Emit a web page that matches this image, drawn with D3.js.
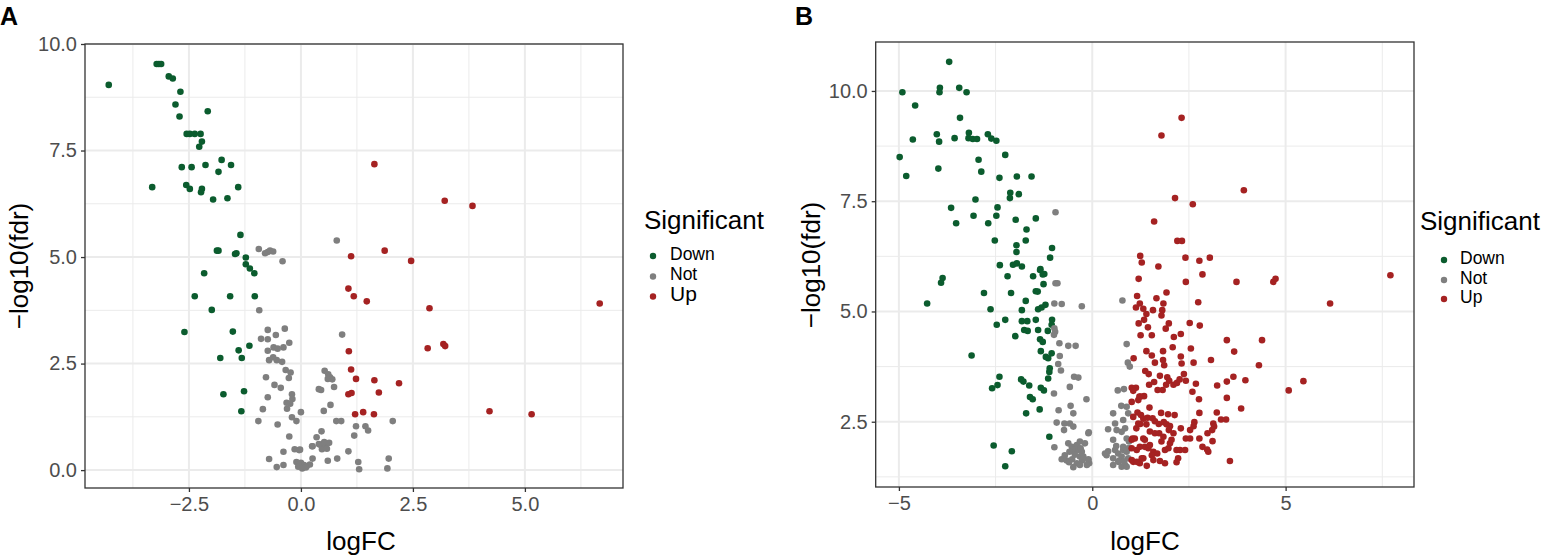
<!DOCTYPE html>
<html><head><meta charset="utf-8">
<script src="https://cdn.jsdelivr.net/npm/d3@7"></script>
<style>body{margin:0;background:#fff} text{font-family:"Liberation Sans",Arial,Helvetica,sans-serif}</style>
</head><body><svg id="c" width="1544" height="556"></svg>
<script>
const categories = ["Down","Not","Up"];
const catColors = ["#0B5C2E","#7F7F7F","#A52222"];

const aDown = [[-4.29,9.04],[-3.22,9.53],[-3.17,9.53],[-3.12,9.53],[-2.95,9.24],[-2.86,9.19],[-2.69,8.88],[-2.80,8.58],[-2.71,8.30],[-2.08,8.42],[-2.55,7.89],[-2.48,7.89],[-2.37,7.89],[-2.24,7.89],[-2.21,7.71],[-2.27,7.59],[-2.66,7.11],[-2.44,7.11],[-2.13,7.16],[-1.77,7.28],[-1.56,7.16],[-1.84,7.00],[-3.32,6.64],[-2.56,6.69],[-2.48,6.60],[-2.21,6.60],[-2.23,6.52],[-1.40,6.64],[-1.96,6.35],[-1.64,6.38],[-1.35,5.52],[-1.875,5.15],[-1.84,5.15],[-1.47,5.07],[-1.44,5.09],[-1.23,4.99],[-1.23,4.83],[-1.14,4.73],[-1.04,4.62],[-2.16,4.62],[-2.37,4.08],[-1.58,4.08],[-1.03,4.08],[-1.99,3.76],[-2.60,3.24],[-1.52,3.25],[-1.15,2.92],[-1.39,2.81],[-1.80,2.63],[-1.32,2.63],[-1.73,1.78],[-1.27,1.85],[-1.33,1.38]];
const aNot = [[-0.94,5.19],[-0.80,5.09],[-0.74,5.12],[-0.69,5.15],[-0.62,5.13],[-0.41,4.90],[0.80,5.39],[0.92,3.18],[0.53,2.33],[0.61,2.25],[0.65,2.18],[0.60,2.14],[0.70,2.13],[0.40,1.90],[0.45,1.88],[0.74,1.95],[0.51,1.39],[0.66,1.53],[0.0,1.36],[0.79,1.15],[0.90,1.15],[2.05,1.15],[1.23,1.03],[1.44,1.03],[1.50,0.93],[1.19,0.81],[0.46,0.91],[0.35,0.77],[0.26,0.56],[0.42,0.60],[0.54,0.55],[0.63,0.64],[0.47,0.49],[0.52,0.66],[0.58,0.50],[1.06,0.44],[0.81,0.27],[0.60,0.22],[0.26,0.27],[0.04,0.12],[0.13,0.09],[0.20,0.13],[1.28,0.19],[1.30,0.02],[1.96,0.27],[1.93,0.04],[-0.02,0.48],[-0.93,3.75],[-0.74,3.29],[-0.36,3.32],[-0.56,3.17],[-0.89,3.08],[-0.74,3.07],[-0.26,2.99],[-0.74,2.80],[-0.61,2.88],[-0.52,2.85],[-0.39,2.88],[-0.71,2.58],[-0.62,2.65],[-0.54,2.58],[-0.42,2.54],[-0.34,2.35],[-0.23,2.29],[-0.27,2.16],[-0.78,2.18],[-0.59,2.00],[-0.45,1.93],[-0.74,1.71],[-0.20,1.78],[-0.19,1.67],[-0.32,1.58],[-0.24,1.56],[-0.31,1.44],[-0.85,1.43],[-0.20,1.24],[-0.10,1.15],[-0.95,1.15],[-0.52,1.07],[-0.26,0.79],[0.25,0.56],[0.40,0.61],[-0.14,0.49],[-0.04,0.47],[-0.39,0.43],[-0.71,0.26],[-0.10,0.19],[0.0,0.17],[0.07,0.12],[-0.06,0.08],[0.03,0.04],[0.11,0.06],[-0.39,0.12],[-0.54,0.07]];
const aUp = [[1.64,7.18],[1.12,5.02],[1.87,5.15],[3.21,6.32],[3.83,6.20],[2.46,4.91],[1.06,4.26],[1.18,4.08],[1.47,3.96],[2.87,3.80],[6.67,3.91],[1.07,2.79],[2.83,2.86],[3.18,2.96],[3.22,2.91],[1.12,2.36],[1.23,2.14],[1.64,2.11],[2.19,2.04],[1.74,1.82],[1.06,1.78],[1.13,1.81],[1.21,1.31],[1.39,1.36],[1.63,1.31],[4.21,1.38],[5.15,1.31]];

const bDown = [[-3.70,10.66],[-4.91,9.97],[-3.94,10.07],[-3.95,9.97],[-3.44,10.07],[-3.25,9.97],[-4.58,9.67],[-3.42,9.39],[-4.64,8.90],[-4.02,9.02],[-3.96,8.85],[-3.56,8.93],[-3.19,9.05],[-3.20,8.93],[-3.09,8.91],[-2.98,8.91],[-2.70,9.02],[-2.61,8.92],[-2.48,8.87],[-4.98,8.50],[-2.25,8.55],[-2.94,8.44],[-4.81,8.07],[-3.98,8.24],[-2.87,8.17],[-2.40,8.03],[-1.95,8.06],[-1.57,8.06],[-2.12,7.69],[-1.90,7.66],[-2.13,7.57],[-3.02,7.54],[-3.65,7.35],[-3.07,7.17],[-2.45,7.36],[-2.48,7.17],[-3.52,7.00],[-2.69,7.00],[-1.98,7.08],[-1.46,7.11],[-1.70,6.86],[-2.52,6.61],[-1.72,6.61],[-1.96,6.50],[-1.96,6.35],[-1.04,6.44],[-1.09,6.22],[-2.39,6.05],[-2.05,6.06],[-1.95,6.09],[-1.82,6.02],[-1.34,5.96],[-1.24,5.85],[-2.19,5.80],[-1.53,5.80],[-3.87,5.76],[-3.91,5.65],[-1.35,5.94],[-1.28,5.84],[-1.26,5.62],[-2.80,5.42],[-2.10,5.42],[-4.27,5.18],[-1.46,5.46],[-1.41,5.45],[-1.72,5.24],[-1.21,5.15],[-1.40,5.05],[-1.31,5.09],[-2.63,5.05],[-1.82,5.03],[-2.47,4.70],[-2.25,4.81],[-1.82,4.78],[-1.68,4.78],[-1.46,4.81],[-1.76,4.58],[-1.67,4.56],[-1.40,4.58],[-1.04,4.81],[-1.05,4.70],[-1.15,4.56],[-1.99,4.44],[-1.35,4.37],[-1.28,4.31],[-3.12,4.00],[-1.33,4.10],[-1.20,3.97],[-1.14,3.94],[-1.05,4.05],[-1.10,3.71],[-1.11,3.63],[-1.14,3.48],[-2.40,3.52],[-2.45,3.33],[-2.59,3.26],[-1.84,3.46],[-1.78,3.41],[-1.63,3.32],[-1.33,3.27],[-1.25,3.21],[-1.61,3.06],[-1.54,3.01],[-1.36,2.78],[-1.71,2.69],[-1.11,2.16],[-2.55,1.96],[-2.08,1.83],[-2.25,1.49]];
const bNot = [[-0.95,7.25],[-0.95,5.64],[-0.90,5.64],[-0.98,5.18],[-0.79,5.17],[-0.27,5.12],[0.78,5.25],[-0.98,4.62],[-0.96,4.54],[-0.99,4.47],[-0.85,4.28],[-0.62,4.22],[-0.43,4.22],[0.89,4.26],[-0.84,3.99],[-0.88,3.81],[-0.81,3.66],[-0.47,3.52],[-0.36,3.50],[0.92,3.84],[0.97,3.75],[-0.99,3.14],[-0.58,3.29],[-0.15,3.01],[0.66,3.21],[0.82,3.24],[-0.56,2.86],[-0.49,2.69],[-0.87,2.76],[0.75,2.86],[0.89,2.84],[0.93,2.69],[0.54,2.69],[0.80,2.54],[-0.92,2.48],[-0.72,2.46],[-0.73,2.31],[-0.58,2.46],[-0.49,2.39],[-0.09,2.26],[0.41,2.33],[0.59,2.46],[0.63,2.31],[-0.98,1.92],[-0.62,2.01],[-0.53,1.93],[-0.40,1.97],[-0.32,2.05],[-0.49,1.86],[-0.36,1.86],[-0.59,1.82],[-0.27,1.82],[-0.79,1.65],[-0.66,1.62],[-0.52,1.65],[-0.40,1.56],[-0.26,1.62],[-0.10,1.65],[-0.49,1.47],[-0.71,1.74],[-0.32,1.71],[-0.08,1.56],[0.41,1.83],[0.59,1.86],[0.67,1.78],[0.80,1.86],[0.89,1.82],[0.97,1.90],[0.54,1.67],[0.67,1.59],[0.85,1.52],[0.76,1.71],[0.93,1.67],[0.37,1.74],[0.76,2.27],[0.54,2.09],[0.89,2.12],[0.33,1.78],[0.54,1.52],[0.76,1.48],[0.89,1.48],[0.80,1.93],[0.93,1.90],[-0.19,2.01],[-0.10,2.24],[-0.23,1.71],[-0.10,1.63],[-0.32,1.52],[-0.14,1.52],[-0.45,1.75],[-0.60,1.58],[0.70,1.62],[0.82,1.60],[0.62,1.95],[-0.30,1.90],[0.95,2.05],[0.85,2.35]];
const bUp = [[2.31,9.39],[1.79,8.99],[3.92,7.75],[2.14,7.57],[2.60,7.43],[1.60,7.04],[2.20,6.60],[2.32,6.60],[1.24,6.26],[1.28,6.11],[1.71,6.02],[2.41,6.22],[2.77,6.15],[3.04,6.22],[1.20,5.74],[2.42,5.67],[2.85,5.84],[3.73,5.67],[4.68,5.67],[4.74,5.74],[7.71,5.82],[6.15,5.18],[1.66,5.30],[1.92,5.43],[2.74,5.21],[1.16,5.35],[1.23,5.18],[1.13,5.09],[1.32,5.06],[1.40,4.94],[1.57,5.03],[1.81,5.03],[1.84,5.18],[1.79,4.91],[1.20,4.73],[1.34,4.81],[1.44,4.64],[1.25,4.46],[1.54,4.46],[1.98,4.73],[1.90,4.61],[2.52,4.74],[2.78,4.68],[2.29,4.49],[2.11,4.42],[3.48,4.35],[4.39,4.35],[3.67,4.09],[4.31,3.78],[2.55,4.16],[2.08,4.19],[1.83,4.10],[1.40,4.10],[1.54,4.00],[1.62,3.84],[1.86,3.78],[1.83,3.90],[1.07,3.94],[2.29,3.98],[2.31,3.82],[2.62,3.84],[3.07,3.90],[1.37,3.65],[1.46,3.58],[1.75,3.54],[1.94,3.51],[1.99,3.43],[1.91,3.34],[1.60,3.40],[1.47,3.34],[2.10,3.34],[2.19,3.38],[2.26,3.46],[2.37,3.58],[2.42,3.43],[2.68,3.36],[3.23,3.32],[3.48,3.41],[3.65,3.52],[3.96,3.44],[5.08,3.21],[5.46,3.42],[1.02,3.27],[1.13,3.27],[1.06,3.20],[1.25,3.07],[1.34,3.08],[1.19,2.99],[1.69,3.22],[1.82,3.22],[2.59,3.18],[2.76,3.01],[3.48,3.04],[3.85,2.80],[1.48,2.82],[1.17,2.71],[1.26,2.65],[1.43,2.59],[1.56,2.58],[1.78,2.70],[1.96,2.67],[2.13,2.65],[2.77,2.70],[3.22,2.71],[3.33,2.55],[3.46,2.55],[2.64,2.49],[2.62,2.40],[3.13,2.46],[3.15,2.39],[3.10,2.31],[1.14,2.35],[1.24,2.45],[1.40,2.44],[1.62,2.51],[1.72,2.45],[1.85,2.49],[1.92,2.44],[2.01,2.40],[2.29,2.35],[1.49,2.28],[1.62,2.24],[1.73,2.24],[1.98,2.31],[2.10,2.24],[2.53,2.31],[2.42,2.12],[2.53,2.12],[2.77,2.12],[2.98,2.24],[3.11,2.06],[2.85,1.93],[3.00,1.82],[2.97,1.87],[3.56,1.61],[1.02,2.09],[1.10,2.12],[1.32,2.12],[1.02,1.90],[1.15,1.86],[1.36,1.93],[1.45,1.90],[1.49,1.97],[1.58,1.82],[1.68,1.78],[1.54,1.74],[1.88,1.86],[1.97,1.90],[2.18,1.86],[2.27,1.86],[2.40,1.86],[2.01,2.01],[2.05,2.09],[1.79,2.05],[1.84,2.16],[1.06,1.59],[1.23,1.56],[1.41,1.50],[1.75,1.61],[1.88,1.56],[2.18,1.58],[2.22,1.67],[1.58,1.63],[1.32,1.67],[1.02,2.95],[1.22,3.07],[1.06,2.61],[1.19,2.46],[1.32,2.57],[1.04,2.12],[1.23,1.93],[1.36,2.09],[1.02,1.63],[1.28,1.67],[1.15,1.59]];

const aXTicks = [-2.5, 0, 2.5, 5];
const aXLabels = ["\u22122.5", "0.0", "2.5", "5.0"];
const aXMinor = [-3.75, -1.25, 1.25, 3.75, 6.25];
const aYTicks = [0, 2.5, 5, 7.5, 10];
const aYLabels = ["0.0", "2.5", "5.0", "7.5", "10.0"];
const aYMinor = [1.25, 3.75, 6.25, 8.75];
const bXTicks = [-5, 0, 5];
const bXLabels = ["\u22125", "0", "5"];
const bXMinor = [-2.5, 2.5, 7.5];
const bYTicks = [2.5, 5, 7.5, 10];
const bYLabels = ["2.5", "5.0", "7.5", "10.0"];
const bYMinor = [1.25, 3.75, 6.25, 8.75];

const svg = d3.select("#c");

function drawPanel(cfg) {
  const x = d3.scaleLinear().domain(cfg.xDomain).range([cfg.left, cfg.right]);
  const y = d3.scaleLinear().domain(cfg.yDomain).range([cfg.bottom, cfg.top]);
  const g = svg.append("g");
  g.append("rect").attr("x", cfg.left).attr("y", cfg.top)
    .attr("width", cfg.right - cfg.left).attr("height", cfg.bottom - cfg.top).attr("fill", "#fff");
  g.selectAll(null).data(cfg.xMinor).join("line")
    .attr("x1", d => x(d)).attr("x2", d => x(d)).attr("y1", cfg.top).attr("y2", cfg.bottom)
    .attr("stroke", "#EBEBEB").attr("stroke-width", 1);
  g.selectAll(null).data(cfg.yMinor.filter(v => y(v) > cfg.top && y(v) < cfg.bottom)).join("line")
    .attr("y1", d => y(d)).attr("y2", d => y(d)).attr("x1", cfg.left).attr("x2", cfg.right)
    .attr("stroke", "#EBEBEB").attr("stroke-width", 1);
  g.selectAll(null).data(cfg.xTicks).join("line")
    .attr("x1", d => x(d)).attr("x2", d => x(d)).attr("y1", cfg.top).attr("y2", cfg.bottom)
    .attr("stroke", "#EBEBEB").attr("stroke-width", 2);
  g.selectAll(null).data(cfg.yTicks).join("line")
    .attr("y1", d => y(d)).attr("y2", d => y(d)).attr("x1", cfg.left).attr("x2", cfg.right)
    .attr("stroke", "#EBEBEB").attr("stroke-width", 2);
  cfg.series.forEach((s, i) => {
    g.selectAll(null).data(s).join("circle")
      .attr("cx", d => x(d[0])).attr("cy", d => y(d[1])).attr("r", 3.3)
      .attr("fill", catColors[i]);
  });
  g.append("rect").attr("x", cfg.left).attr("y", cfg.top)
    .attr("width", cfg.right - cfg.left).attr("height", cfg.bottom - cfg.top)
    .attr("fill", "none").attr("stroke", "#333").attr("stroke-width", 1.3);
  const xAxis = d3.axisBottom(x).tickValues(cfg.xTicks).tickFormat((d, i) => cfg.xLabels[i]).tickSize(4).tickPadding(4);
  const gx = g.append("g").attr("transform", `translate(0,${cfg.bottom})`).call(xAxis);
  const yAxis = d3.axisLeft(y).tickValues(cfg.yTicks).tickFormat((d, i) => cfg.yLabels[i]).tickSize(4).tickPadding(4);
  const gy = g.append("g").attr("transform", `translate(${cfg.left},0)`).call(yAxis);
  [gx, gy].forEach(a => {
    a.select(".domain").remove();
    a.selectAll(".tick line").attr("stroke", "#333").attr("stroke-width", 1.3);
    a.selectAll(".tick text").attr("fill", "#4D4D4D").style("font-size", "20px")
      .style("font-family", '"Liberation Sans", Arial, sans-serif');
  });
  gx.selectAll(".tick text").attr("dy", "0.75em");
  g.append("text").attr("x", cfg.xTitleX).attr("y", 550).attr("text-anchor", "middle")
    .style("font-size", "26px").attr("fill", "#000").text("logFC");
  g.append("text").attr("transform", `translate(${cfg.yTitleX},${cfg.yTitleY}) rotate(-90)`)
    .attr("text-anchor", "middle").style("font-size", "26px").attr("fill", "#000").text("\u2212log10(fdr)");
  g.append("text").attr("x", cfg.tagX).attr("y", 25).style("font-size", "25px").style("font-weight", "bold")
    .attr("fill", "#000").text(cfg.tag);
  const L = cfg.legend;
  g.append("text").attr("x", L.x).attr("y", L.titleY).style("font-size", "26px").attr("fill", "#000").text("Significant");
  categories.forEach((c, i) => {
    g.append("circle").attr("cx", L.dotX).attr("cy", L.dotY[i]).attr("r", 3.2).attr("fill", catColors[i]);
    g.append("text").attr("x", L.textX).attr("y", L.textY[i]).style("font-size", L.sizes[i] + "px")
      .attr("fill", "#000").text(c);
  });
}

drawPanel({
  tag: "A", tagX: 0,
  left: 85, right: 623, top: 44, bottom: 488,
  xDomain: [-4.82, 7.19], yDomain: [-0.42, 10.0],
  xTicks: aXTicks, xLabels: aXLabels, xMinor: aXMinor,
  yTicks: aYTicks, yLabels: aYLabels, yMinor: aYMinor,
  series: [aDown, aNot, aUp],
  xTitleX: 361, yTitleX: 28, yTitleY: 266,
  legend: { x: 644, titleY: 229, dotX: 653, dotY: [256, 276.5, 296.5], textX: 670,
            textY: [260, 279.5, 301], sizes: [17.5, 17.5, 21] }
});

drawPanel({
  tag: "B", tagX: 795,
  left: 875.7, right: 1414, top: 42, bottom: 487,
  xDomain: [-5.60, 8.32], yDomain: [1.02, 11.11],
  xTicks: bXTicks, xLabels: bXLabels, xMinor: bXMinor,
  yTicks: bYTicks, yLabels: bYLabels, yMinor: bYMinor,
  series: [bDown, bNot, bUp],
  xTitleX: 1145, yTitleX: 820, yTitleY: 265,
  legend: { x: 1420, titleY: 230, dotX: 1444, dotY: [260, 280, 299], textX: 1460,
            textY: [264, 283.5, 302.5], sizes: [17.5, 17.5, 17.5] }
});
</script>
</body></html>
